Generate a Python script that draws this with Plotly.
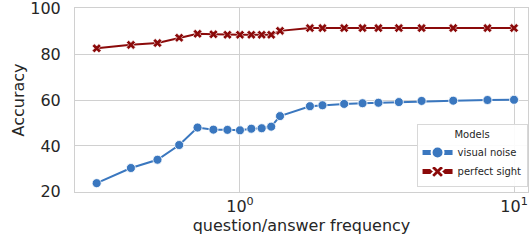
import plotly.graph_objects as go

freq = [0.3, 0.4, 0.5, 0.6, 0.7, 0.8, 0.9, 1.0, 1.1, 1.2, 1.3, 1.4,
        1.8, 2.0, 2.4, 2.8, 3.2, 3.8, 4.6, 6.0, 8.0, 10.0]
visual_noise = [23.8, 30.4, 34.0, 40.4, 48.0, 47.1, 47.0, 46.8, 47.5, 47.7, 48.4, 53.0,
                57.3, 57.7, 58.3, 58.6, 58.8, 59.1, 59.6, 59.7, 60.0, 60.1]
perfect_sight = [82.5, 84.0, 84.8, 87.1, 88.8, 88.6, 88.4, 88.4, 88.4, 88.4, 88.4, 90.1,
                 91.3, 91.3, 91.3, 91.3, 91.3, 91.3, 91.3, 91.3, 91.3, 91.3]
y_ticks = [20, 40, 60, 80, 100]
x_ticks = [1, 10]
x_ticktext = ["10<sup>0</sup>", "10<sup>1</sup>"]

BLUE = "#3a77bf"
RED = "#8b0a0a"
GRID = "#d0d0d0"
TXT = "#262626"

fig = go.Figure()
fig.add_trace(go.Scatter(
    x=freq, y=visual_noise, mode="lines+markers", name="visual noise",
    line=dict(color=BLUE, width=2),
    marker=dict(symbol="circle", size=9, color=BLUE, line=dict(color="white", width=0.8)),
))
fig.add_trace(go.Scatter(
    x=freq, y=perfect_sight, mode="lines+markers", name="perfect sight",
    line=dict(color=RED, width=2),
    marker=dict(symbol="x", size=8, color=RED, line=dict(color="white", width=0.6)),
))

fig.update_layout(
    width=531, height=247,
    margin=dict(l=75, r=3, t=8, b=55, autoexpand=False),
    paper_bgcolor="white", plot_bgcolor="white",
    font=dict(family="DejaVu Sans", size=16, color=TXT),
    showlegend=True,
    legend=dict(
        x=0.999, xanchor="right", y=0.027, yanchor="bottom",
        bgcolor="rgba(255,255,255,0.9)", bordercolor="#d8d8d8", borderwidth=1,
        font=dict(size=10, color=TXT),
        title=dict(text="Models", side="top center", font=dict(size=10, color=TXT)),
        tracegroupgap=0, itemsizing="constant", itemwidth=30,
    ),
)
fig.update_xaxes(
    type="log", range=[-0.602, 1.051],
    tickvals=x_ticks, ticktext=x_ticktext,
    showgrid=True, gridcolor=GRID, gridwidth=1,
    showline=True, linecolor=GRID, linewidth=1, mirror=True,
    ticks="", zeroline=False, ticklabeloverflow="allow",
    title=dict(text="question/answer frequency", standoff=0, font=dict(size=16)),
    tickfont=dict(size=16),
)
fig.update_yaxes(
    range=[19.95, 100.05], tickvals=y_ticks,
    showgrid=True, gridcolor=GRID, gridwidth=1,
    showline=True, linecolor=GRID, linewidth=1, mirror=True,
    ticks="", zeroline=False, ticklabeloverflow="allow",
    ticklabelstandoff=10,
    title=dict(text="Accuracy", standoff=1, font=dict(size=16)),
    tickfont=dict(size=16),
)

fig.write_html("out.html", config={"displayModeBar": False},
               post_script="document.body.style.margin='0';document.body.style.padding='0';")
